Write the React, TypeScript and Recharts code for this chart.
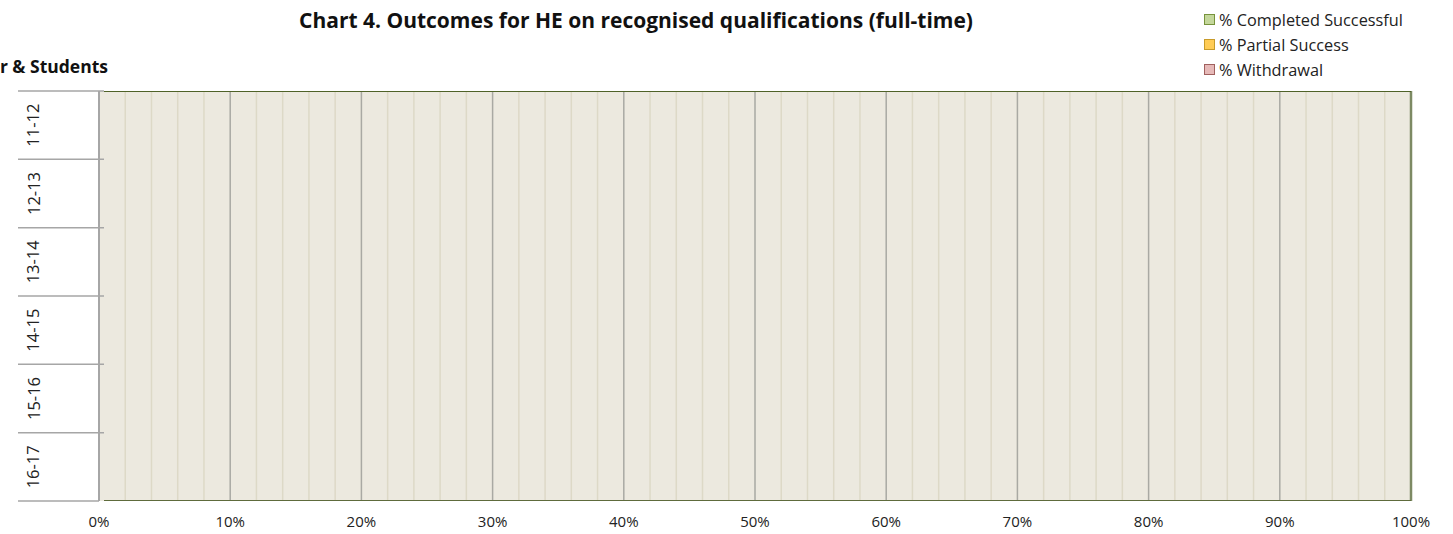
import React from 'react';
import { BarChart, Bar, XAxis, YAxis, CartesianGrid, ReferenceLine } from 'recharts';

const years = ['11-12', '12-13', '13-14', '14-15', '15-16', '16-17'];
const completedSuccessful = [0, 0, 0, 0, 0, 0];
const partialSuccess = [0, 0, 0, 0, 0, 0];
const withdrawal = [0, 0, 0, 0, 0, 0];
const majorTicks = [0, 0.1, 0.2, 0.3, 0.4, 0.5, 0.6, 0.7, 0.8, 0.9, 1];
const minorTicks = [0.02, 0.04, 0.06, 0.08, 0.12, 0.14, 0.16, 0.18, 0.22, 0.24, 0.26, 0.28, 0.32, 0.34, 0.36, 0.38, 0.42, 0.44, 0.46, 0.48, 0.52, 0.54, 0.56, 0.58, 0.62, 0.64, 0.66, 0.68, 0.72, 0.74, 0.76, 0.78, 0.82, 0.84, 0.86, 0.88, 0.92, 0.94, 0.96, 0.98];

const seriesMeta = [
  { key: 'completed', name: '% Completed Successful', fill: '#C4D79B', stroke: '#77933C' },
  { key: 'partial', name: '% Partial Success', fill: '#FFCC55', stroke: '#C89B2A' },
  { key: 'withdrawal', name: '% Withdrawal', fill: '#E6B9B8', stroke: '#A0605E' },
];

const data = years.map((y, i) => ({
  year: y,
  completed: completedSuccessful[i],
  partial: partialSuccess[i],
  withdrawal: withdrawal[i],
}));

const FONT = '"Open Sans", "Noto Sans", sans-serif';

const YearTick = (props: any) => {
  const { y, payload, index, visibleTicksCount } = props;
  const half = payload && typeof payload.offset === 'number' && payload.offset > 0 ? payload.offset : 410 / 12;
  const tx = 33;
  const last = index === (visibleTicksCount ?? years.length) - 1;
  return (
    <g>
      <line x1={18} x2={104} y1={y - half} y2={y - half} stroke="#A6A6A6" strokeWidth={1.5} />
      {last && <line x1={18} x2={99} y1={y + half} y2={y + half} stroke="#A6A6A6" strokeWidth={1.5} />}
      <text
        x={tx}
        y={y}
        transform={`rotate(-90 ${tx} ${y})`}
        textAnchor="middle"
        dominantBaseline="central"
        fontFamily={FONT}
        fontSize={16.5}
        fill="#222"
      >
        {payload.value}
      </text>
    </g>
  );
};

export default function App() {
  return (
    <div style={{ position: 'absolute', left: 0, top: 0, width: 1453, height: 534, background: '#fff' }}>
      <div
        style={{
          position: 'absolute',
          left: 0,
          top: 6,
          width: 1272,
          textAlign: 'center',
          fontFamily: FONT,
          fontWeight: 700,
          fontSize: 21,
          color: '#111',
          whiteSpace: 'nowrap',
        }}
      >
        Chart 4. Outcomes for HE on recognised qualifications (full-time)
      </div>
      <div
        style={{
          position: 'absolute',
          right: 1453 - 108,
          top: 54,
          whiteSpace: 'nowrap',
          fontFamily: FONT,
          fontWeight: 700,
          fontSize: 17.5,
          color: '#111',
        }}
      >
        Year &amp; Students
      </div>
      <div
        style={{
          position: 'absolute',
          left: 1204,
          top: 7,
          fontFamily: FONT,
          fontSize: 16.3,
          color: '#222',
        }}
      >
        {seriesMeta.map((s) => (
          <div key={s.key} style={{ display: 'flex', alignItems: 'center', height: 25, whiteSpace: 'nowrap' }}>
            <span
              style={{
                display: 'inline-block',
                width: 9,
                height: 9,
                background: s.fill,
                border: `1px solid ${s.stroke}`,
                marginRight: 4,
              }}
            />
            <span>{s.name}</span>
          </div>
        ))}
      </div>
      <div style={{ position: 'absolute', left: 0, top: 0 }}>
        <BarChart
          width={1453}
          height={534}
          data={data}
          layout="vertical"
          margin={{ top: 91, right: 42, bottom: 0, left: 19 }}
          barCategoryGap="40%"
        >
          <XAxis
            xAxisId="main"
            type="number"
            domain={[0, 1]}
            ticks={majorTicks}
            tickFormatter={(v: number) => `${Math.round(v * 100)}%`}
            axisLine={false}
            tickLine={false}
            tickSize={0}
            tickMargin={15}
            tick={{ fontFamily: FONT, fontSize: 15, fill: '#222' }}
            height={33}
            interval={0}
          />
          <YAxis
            yAxisId="cat"
            type="category"
            dataKey="year"
            width={80}
            axisLine={false}
            tickLine={false}
            tickSize={0}
            tickMargin={0}
            tick={(p: any) => <YearTick {...p} />}
            interval={0}
          />
          <CartesianGrid
            xAxisId="main"
            yAxisId="cat"
            horizontal={false}
            stroke="#A9A9A3"
            strokeWidth={1.5}
            fill="#ECE9DF"
            fillOpacity={1}
          />
          {minorTicks.map((t) => (
            <ReferenceLine key={t} xAxisId="main" yAxisId="cat" x={t} stroke="#DDD9C7" strokeWidth={1.5} />
          ))}
          <ReferenceLine xAxisId="main" yAxisId="cat" x={0} stroke="#A6A6A6" strokeWidth={2} />
          <ReferenceLine xAxisId="main" yAxisId="cat" x={1} stroke="#7D8A63" strokeWidth={2.5} />
          {seriesMeta.map((s) => (
            <Bar
              key={s.key}
              dataKey={s.key}
              name={s.name}
              stackId="a"
              xAxisId="main"
              yAxisId="cat"
              fill={s.fill}
              stroke={s.stroke}
              isAnimationActive={false}
            />
          ))}
        </BarChart>
      </div>
      <svg
        width={1453}
        height={534}
        style={{ position: 'absolute', left: 0, top: 0, pointerEvents: 'none' }}
      >
        <line x1={104} x2={1411} y1={91.5} y2={91.5} stroke="#4F6228" strokeWidth={1.2} />
        <line x1={104} x2={1411} y1={500.5} y2={500.5} stroke="#5E6B3C" strokeWidth={1.2} />
      </svg>
    </div>
  );
}
